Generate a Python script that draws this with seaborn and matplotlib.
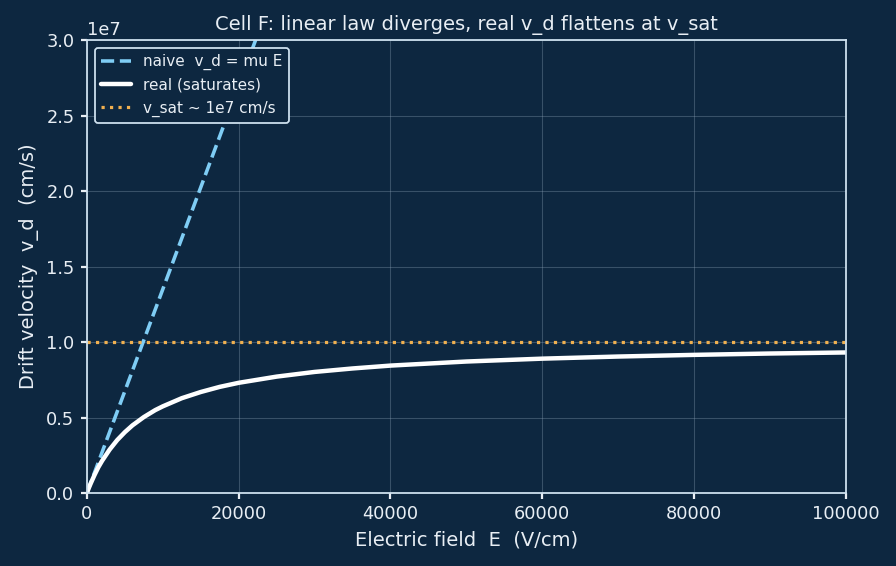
import matplotlib
matplotlib.use('Agg')
import matplotlib.pyplot as plt
import pandas as pd
import seaborn as sns

# Values
field = [0, 250, 500, 1000, 1500, 2000, 3000, 4000, 5000, 6000, 7500, 9000, 10000,
         12500, 15000, 17500, 20000, 25000, 30000, 35000, 40000, 50000, 60000,
         70000, 80000, 90000, 100000]
v_real = [0, 0.33e6, 0.63e6, 1.19e6, 1.70e6, 2.13e6, 2.88e6, 3.51e6, 4.03e6,
          4.48e6, 5.03e6, 5.49e6, 5.74e6, 6.28e6, 6.69e6, 7.03e6, 7.30e6, 7.71e6,
          8.02e6, 8.25e6, 8.44e6, 8.71e6, 8.90e6, 9.04e6, 9.15e6, 9.24e6, 9.31e6]
field_naive = [0, 25000]
v_naive = [0, 3.375e7]
v_sat = 1e7

bg = '#0d2740'
fg = '#e8eef4'
edge = '#cfe2f0'

sns.set_theme(style='dark')
plt.rcParams['font.family'] = ['DejaVu Sans']

fig, ax = plt.subplots(figsize=(7, 4.422), dpi=128)
fig.patch.set_facecolor(bg)
ax.set_facecolor(bg)

naive = pd.DataFrame({'E': field_naive, 'v': v_naive})
real = pd.DataFrame({'E': field, 'v': v_real})

sns.lineplot(data=naive, x='E', y='v', ax=ax, color='#7fcdf5', lw=2,
             label='naive  v_d = mu E')
ax.lines[-1].set_linestyle('--')
sns.lineplot(data=real, x='E', y='v', ax=ax, color='white', lw=2.5,
             label='real (saturates)')
ax.axhline(v_sat, color='#f0b050', lw=1.8, linestyle=':', label='v_sat ~ 1e7 cm/s')

ax.set_xlim(0, 100000)
ax.set_ylim(0, 3e7)
ax.set_title('Cell F: linear law diverges, real v_d flattens at v_sat', color=fg, fontsize=11)
ax.set_xlabel('Electric field  E  (V/cm)', color=fg, fontsize=11)
ax.set_ylabel('Drift velocity  v_d  (cm/s)', color=fg, fontsize=11)
ax.tick_params(colors=fg, labelsize=10, length=3.5, bottom=True, left=True)
ax.yaxis.get_offset_text().set_color(fg)
ax.yaxis.get_offset_text().set_fontsize(10)
ax.grid(True, color='#8aa0b4', alpha=0.35, lw=0.6)
for s in ax.spines.values():
    s.set_color(edge)
    s.set_linewidth(1.0)

leg = ax.legend(loc='upper left', fontsize=8.6, facecolor=bg, edgecolor=edge,
                framealpha=1, labelcolor=fg)
leg.get_lines()[0].set_linestyle('--')

fig.subplots_adjust(left=0.097, right=0.944, top=0.929, bottom=0.129)
fig.savefig('out.png', dpi=128, facecolor=bg)
